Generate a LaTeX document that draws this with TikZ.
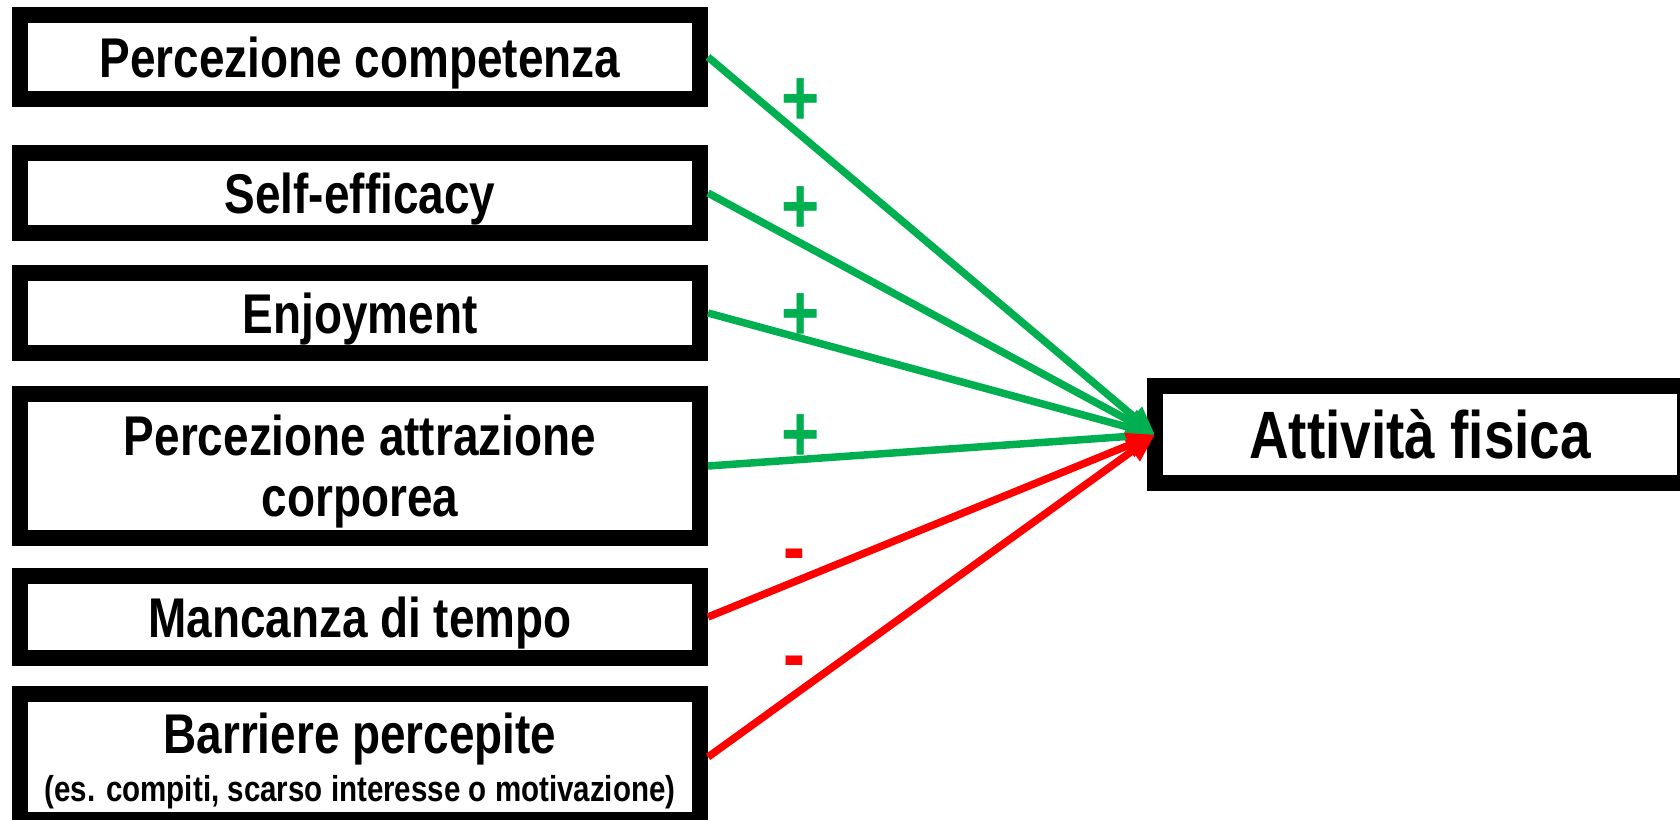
\documentclass[tikz,border=0pt]{standalone}
\usepackage{fontspec}
\setmainfont{Liberation Sans}[FakeStretch=0.82]
\usetikzlibrary{arrows.meta}
\definecolor{posgreen}{RGB}{0,176,80}
\definecolor{negred}{RGB}{255,0,0}
\tikzset{
  factor/.style={draw=black, line width=16pt, fill=white, minimum width=680pt,
    inner sep=0pt, align=center, text depth=0pt,
    font=\bfseries\fontsize{56}{61}\selectfont},
  outcome/.style={draw=black, line width=16pt, fill=white, minimum width=530pt,
    minimum height=97pt, inner sep=0pt, outer sep=0pt,
    font=\bfseries\fontsize{67}{70}\selectfont},
  link/.style={line width=7.5pt, -{Triangle[length=28pt,width=24pt]}},
  poslink/.style={link, draw=posgreen},
  neglink/.style={link, draw=negred},
  sign/.style={font=\bfseries\fontsize{80}{80}\selectfont, inner sep=0pt, anchor=base}
}
\begin{document}
\begin{tikzpicture}[x=1pt,y=-1pt]
  \useasboundingbox (0,0) rectangle (1680,819);

  % predictors
  \node[factor, minimum height=84pt]  (c1) at (360,57)  {Percezione competenza};
  \node[factor, minimum height=80pt]  (c2) at (360,193) {Self-efficacy};
  \node[factor, minimum height=80pt]  (c3) at (360,313) {Enjoyment};
  \node[factor, minimum height=144pt] (c4) at (360,466) {Percezione attrazione\\corporea};
  \node[factor, minimum height=82pt]  (c5) at (360,617) {Mancanza di tempo};
  \node[factor, minimum height=126pt] (c6) at (360,757)
    {Barriere percepite\\[-13pt]{\fontsize{36}{40}\selectfont (es. compiti, scarso interesse o motivazione)}};

  % outcome
  \node[outcome] (out) at (1420,434.5) {Attività fisica};

  % effects
  \draw[poslink] (c1.east) -- (out.west);
  \draw[poslink] (c2.east) -- (out.west);
  \draw[poslink] (c3.east) -- (out.west);
  \draw[poslink] (c4.east) -- (out.west);
  \draw[neglink] (c5.east) -- (out.west);
  \draw[neglink] (c6.east) -- (out.west);

  % signs of the effects
  \node[sign, text=posgreen] (s1) at (801,125) {+};
  \node[sign, text=posgreen] (s2) at (801,233) {+};
  \node[sign, text=posgreen] (s3) at (801,340) {+};
  \node[sign, text=posgreen] (s4) at (801,461) {+};
  \node[sign, text=negred]   (s5) at (794,574) {-};
  \node[sign, text=negred]   (s6) at (794,681) {-};
\end{tikzpicture}
\end{document}
